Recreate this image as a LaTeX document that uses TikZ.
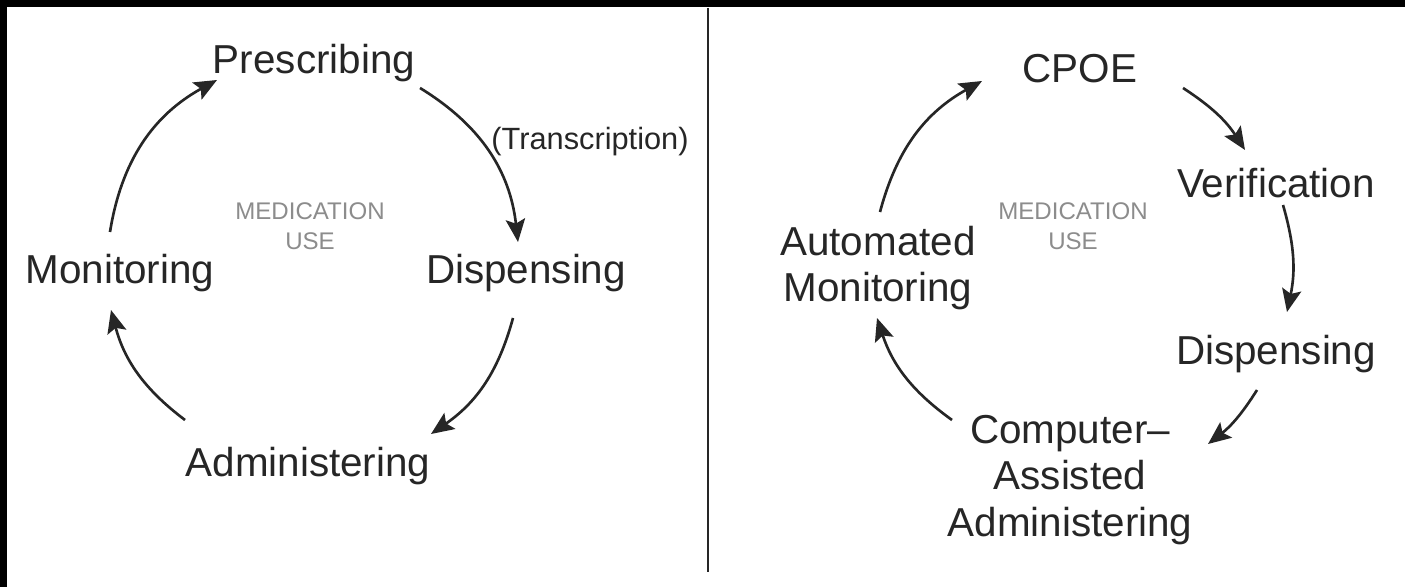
\documentclass[tikz,border=0pt]{standalone}
\usepackage{fontspec}
\setmainfont{Liberation Sans}
\usetikzlibrary{arrows.meta}

\begin{document}
\begin{tikzpicture}[x=0.02cm,y=-0.02cm]
\tikzstyle{stage}=[inner sep=0pt,text=black!85,font=\fontsize{23}{26.5}\selectfont,align=center]
\tikzstyle{hub}=[inner sep=0pt,text=black!45,font=\fontsize{13.7}{17}\selectfont,align=center]
\tikzstyle{note}=[inner sep=0pt,text=black!85,font=\fontsize{17.5}{20}\selectfont]
\tikzstyle{flow}=[draw=black!85,line width=1.5pt,-{Stealth[length=13pt,width=11pt,inset=2.5pt]}]

% frame
\useasboundingbox (0,0) rectangle (1405,587);
\fill[black] (0,0) rectangle (1405,587);
\fill[white] (7,7) rectangle (1405,587);
\coordinate (top) at (708,8);
\coordinate (bot) at (708,572);
\draw[black!85,line width=1.1pt] (top) -- (bot);

% left cycle
\node[stage] (presc) at (314,63) {Prescribing};
\node[stage] (disp) at (526,273) {Dispensing};
\node[stage] (admin) at (308,466) {Administering};
\node[stage] (monit) at (120,273) {Monitoring};
\node[note] (transc) at (590,142) {(Transcription)};
\node[hub] (use) at (310,226) {MEDICATION\\USE};

\coordinate (p-out) at (420,88);
\coordinate (d-in) at (518,242);
\coordinate (d-out) at (513,318);
\coordinate (a-in) at (431,434);
\coordinate (a-out) at (185,420);
\coordinate (m-in) at (111,310);
\coordinate (m-out) at (110,232);
\coordinate (p-in) at (217,80);

\draw[flow] (p-out) to[bend left=26] (d-in);
\draw[flow] (d-out) to[bend left=20] (a-in);
\draw[flow] (a-out) to[bend left=19] (m-in);
\draw[flow] (m-out) to[bend left=26] (p-in);

% right cycle
\node[stage] (cpoe) at (1080,69) {CPOE};
\node[stage] (verif) at (1276,183) {Verification};
\node[stage] (disp2) at (1276,354) {Dispensing};
\node[stage] (admin2) at (1070,480) {Computer--\\Assisted\\Administering};
\node[stage] (monit2) at (878,268) {Automated\\Monitoring};
\node[hub] (use2) at (1073,226) {MEDICATION\\USE};

\coordinate (c-out) at (1183,88);
\coordinate (v-in) at (1245,150);
\coordinate (v-out) at (1283,205);
\coordinate (d2-in) at (1287,312);
\coordinate (d2-out) at (1257,390);
\coordinate (a2-in) at (1208,444);
\coordinate (a2-out) at (952,420);
\coordinate (m2-in) at (877,318);
\coordinate (m2-out) at (880,212);
\coordinate (c-in) at (982,81);

\draw[flow] (c-out) to[bend left=12] (v-in);
\draw[flow] (v-out) to[bend left=14] (d2-in);
\draw[flow] (d2-out) to[bend left=10] (a2-in);
\draw[flow] (a2-out) to[bend left=18] (m2-in);
\draw[flow] (m2-out) to[bend left=23] (c-in);

\end{tikzpicture}
\end{document}
